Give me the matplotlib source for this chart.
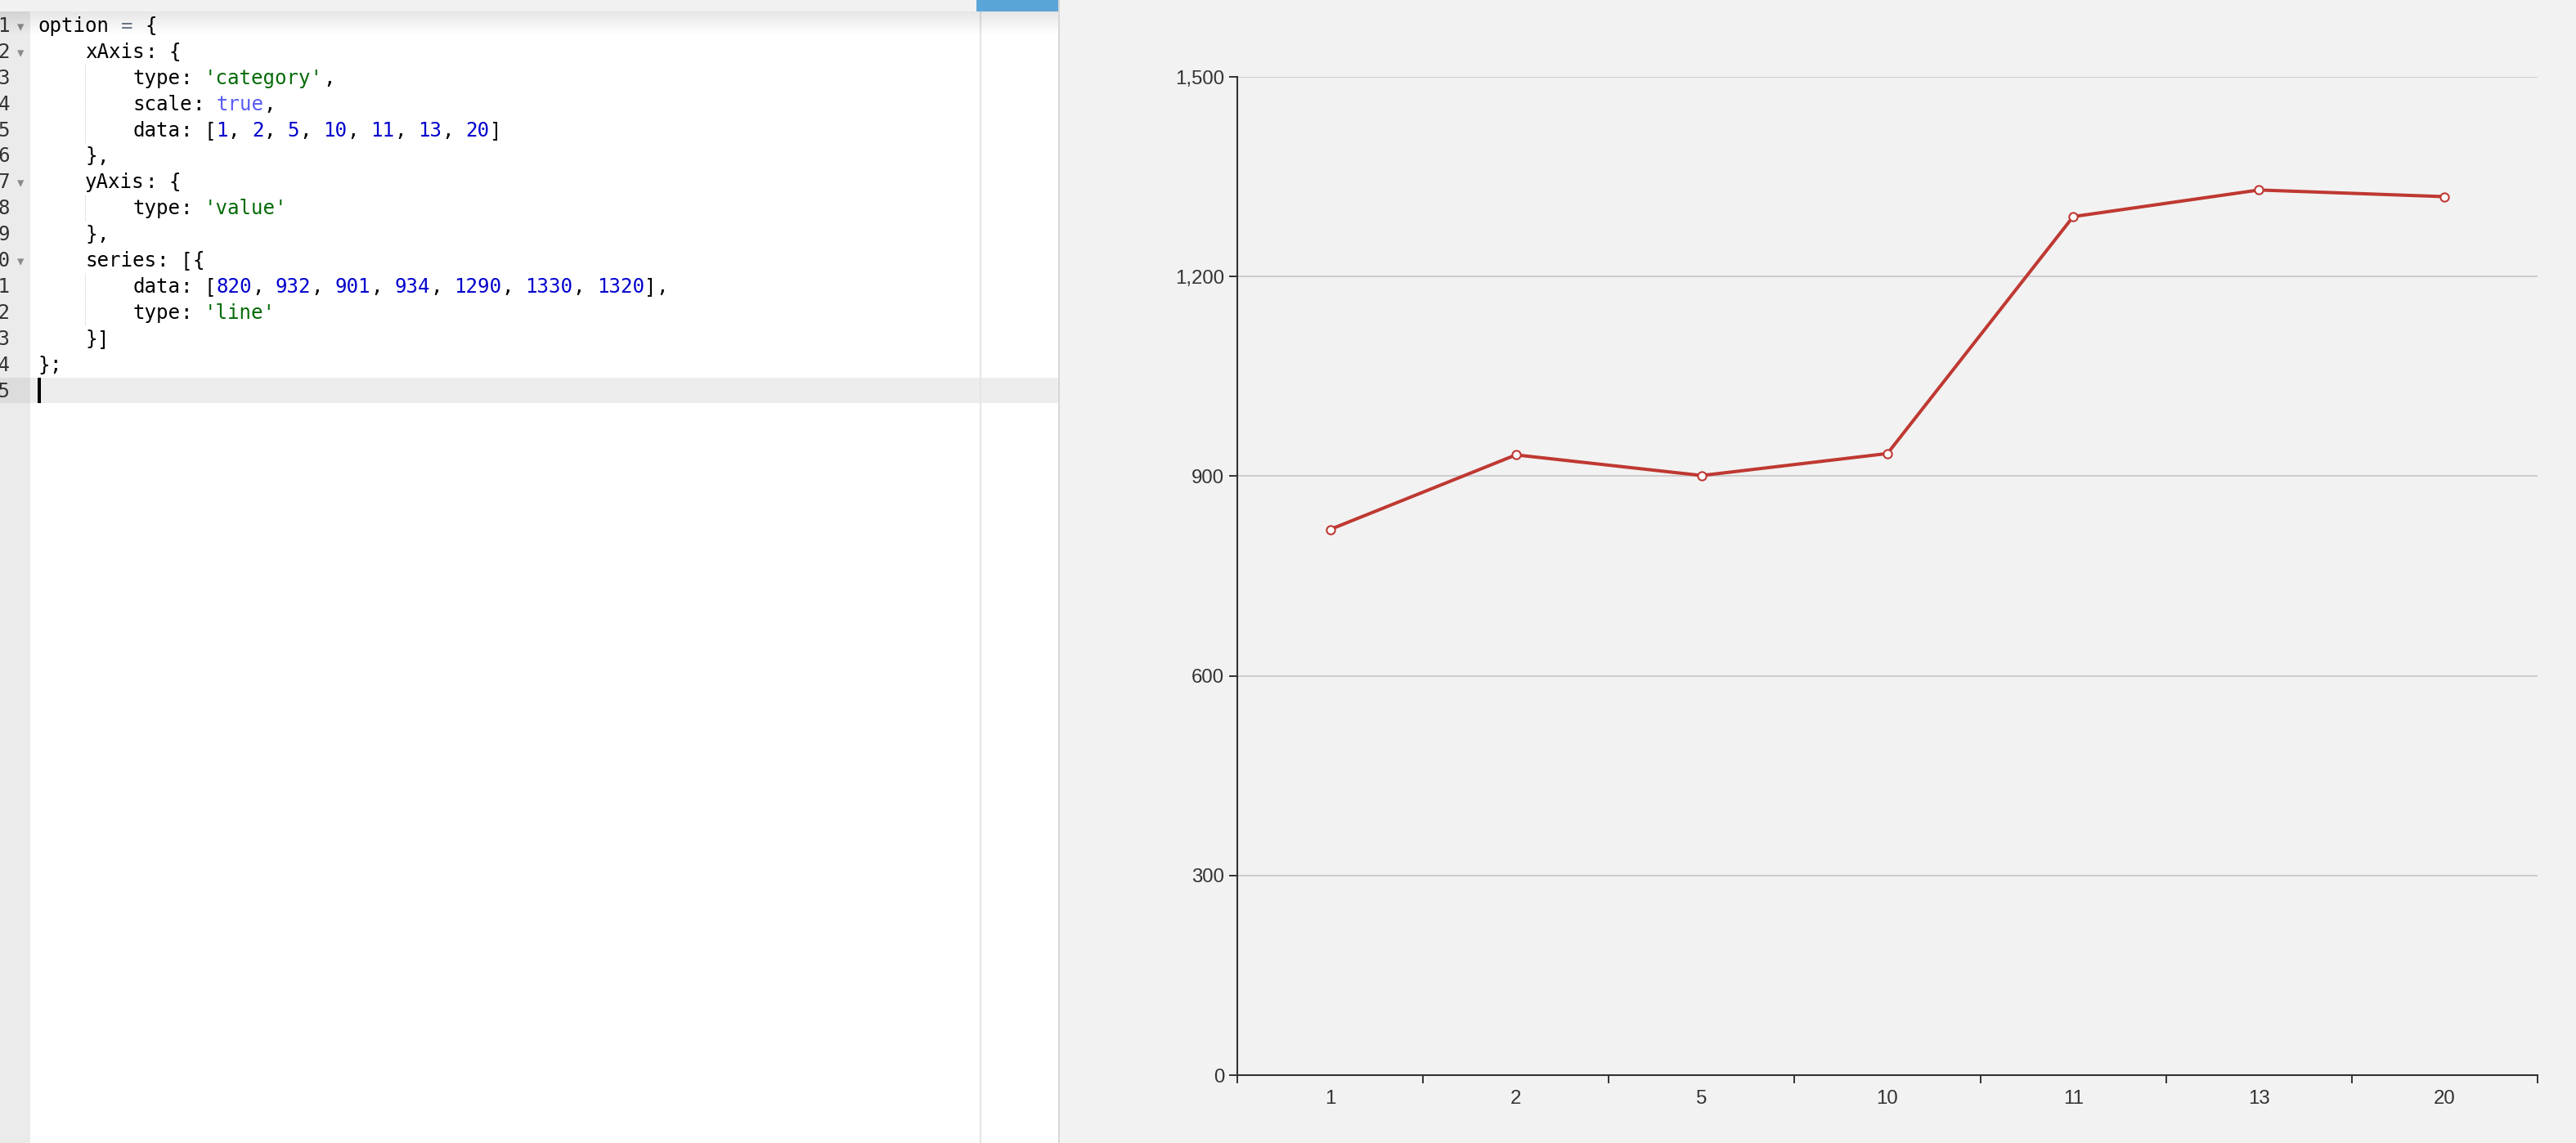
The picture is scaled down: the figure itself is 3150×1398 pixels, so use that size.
import re
import numpy as np
import matplotlib
matplotlib.use("Agg")
import matplotlib.pyplot as plt
from matplotlib.patches import Rectangle
from matplotlib.ticker import FuncFormatter

# ---- data ----
categories = [1, 2, 5, 10, 11, 13, 20]
values = [820, 932, 901, 934, 1290, 1330, 1320]
y_ticks = [0, 300, 600, 900, 1200, 1500]

W, H = 3150, 1398
DPI = 100
fig = plt.figure(figsize=(W / DPI, H / DPI), dpi=DPI)
fig.patch.set_facecolor("white")

bg = fig.add_axes([0, 0, 1, 1])
bg.axis("off")

EDIT_R = 1295
# backgrounds
bg.add_patch(Rectangle((0, 0), EDIT_R, H, color="white", lw=0, zorder=0))
bg.add_patch(Rectangle((EDIT_R, 0), W - EDIT_R, H, color="#f2f2f2", lw=0, zorder=0))
bg.add_patch(Rectangle((0, 14), 37, H, color="#ebebeb", lw=0, zorder=1))

# code
code_lines = [
    "option = {",
    "    xAxis: {",
    "        type: 'category',",
    "        scale: true,",
    "        data: [" + ", ".join(str(c) for c in categories) + "]",
    "    },",
    "    yAxis: {",
    "        type: 'value'",
    "    },",
    "    series: [{",
    "        data: [" + ", ".join(str(v) for v in values) + "],",
    "        type: 'line'",
    "    }]",
    "};",
    "",
]

LINE0 = 31.0
LH = 31.9
X0 = 46.0
FS = 17.4
CW = FS / 0.72 * 0.602
MONO = "DejaVu Sans Mono"

# active line highlight (last line)
cur = len(code_lines) - 1
ytop = LINE0 + LH * cur - 15.5
bg.add_patch(Rectangle((37, ytop), EDIT_R - 37, 31, color="#ededed", lw=0, zorder=1))
bg.add_patch(Rectangle((0, ytop), 37, 31, color="#dcdcdc", lw=0, zorder=1))

# print margin line
bg.plot([1199, 1199], [14, H], color="#e6e6e6", lw=1.6, zorder=2)
# editor right border
bg.plot([1294.5, 1294.5], [0, H], color="#d2d2d2", lw=1.2, zorder=5)

# indent guides
def guide(l0, l1):
    y0 = LINE0 + LH * l0 - 16
    y1 = LINE0 + LH * l1 + 16
    bg.plot([X0 + 4 * CW, X0 + 4 * CW], [y0, y1], color="#d0d0d0", lw=0.8,
            ls=(0, (1, 1)), zorder=2)

guide(2, 4)
guide(7, 7)
guide(10, 11)

colors = {"str": "#036a07", "num": "#0000cd", "bool": "#585cf6",
          "op": "#687687", "plain": "#000000"}
tok_re = re.compile(r"'[^']*'|\d+|true\b|=|\s+|[A-Za-z_]+|.")
for i, line in enumerate(code_lines):
    y = LINE0 + LH * i
    bg.text(12, y + 1, str(i + 1), family=MONO, fontsize=FS, color="#333333",
            ha="right", va="center", zorder=3)
    for m in tok_re.finditer(line):
        t = m.group(0)
        if t.isspace():
            continue
        if t.startswith("'"):
            c = colors["str"]
        elif t.isdigit():
            c = colors["num"]
        elif t == "true":
            c = colors["bool"]
        elif t == "=":
            c = colors["op"]
        else:
            c = colors["plain"]
        bg.text(X0 + m.start() * CW, y + 1, t, family=MONO, fontsize=FS,
                color=c, ha="left", va="center", zorder=3)

# fold widgets
for i in [0, 1, 6, 9]:
    bg.text(25, LINE0 + LH * i + 2, "\u25BE", family="DejaVu Sans", fontsize=12,
            color="#8a8a8a", ha="center", va="center", zorder=3)

# cursor
bg.add_patch(Rectangle((46, ytop), 3.5, 31, color="black", lw=0, zorder=4))

# top bar + shadow + tab
bg.add_patch(Rectangle((0, 0), EDIT_R - 1, 14, color="#f1f1f1", lw=0, zorder=6))
bg.add_patch(Rectangle((1194, 0), 100, 14, color="#5aa5d8", lw=0, zorder=7))
grad = np.zeros((30, 2, 4))
grad[..., 0:3] = 0.0
grad[..., 3] = np.linspace(0.10, 0.0, 30)[:, None]
bg.imshow(grad, extent=[0, EDIT_R - 1, 44, 14], origin="upper", aspect="auto",
          interpolation="bilinear", zorder=5)

bg.set_xlim(0, W)
bg.set_ylim(H, 0)

# ---- chart ----
AX_L, AX_R, AX_T, AX_B = 1513, 3103, 94, 1315
ax = fig.add_axes([AX_L / W, (H - AX_B) / H, (AX_R - AX_L) / W, (AX_B - AX_T) / H])
ax.set_facecolor("none")
x = np.arange(len(categories))
ax.plot(x, values, color="#bf3832", lw=2.9, marker="o", ms=7.4, mfc="white",
        mec="#bf3832", mew=1.5, zorder=4, clip_on=False, solid_joinstyle="round")
ax.set_xlim(-0.5, len(categories) - 0.5)
ax.set_ylim(y_ticks[0], y_ticks[-1])

for s in ["top", "right"]:
    ax.spines[s].set_visible(False)
for s in ["left", "bottom"]:
    ax.spines[s].set_color("#333333")
    ax.spines[s].set_linewidth(1.5)

LABEL_FONT = "Liberation Sans"
ax.set_xticks(np.arange(-0.5, len(categories), 1.0))
ax.set_xticks(x, minor=True)
ax.set_xticklabels([str(c) for c in categories], minor=True)
ax.tick_params(axis="x", which="major", length=7, width=1.4, color="#333333",
               labelbottom=False, direction="out")
ax.tick_params(axis="x", which="minor", length=0, pad=13, labelsize=17.3,
               labelcolor="#333333")
ax.set_yticks(y_ticks)
ax.yaxis.set_major_formatter(FuncFormatter(lambda v, p: f"{int(v):,}"))
ax.tick_params(axis="y", length=7, width=1.4, color="#333333", pad=4.5,
               labelsize=17.3, labelcolor="#333333", direction="out")
for lab in ax.get_xticklabels(minor=True) + ax.get_yticklabels():
    lab.set_family(LABEL_FONT)
ax.yaxis.grid(True, color="#cccccc", lw=1.4)
ax.set_axisbelow(True)

fig.savefig("out.png", dpi=DPI, facecolor=fig.get_facecolor())
